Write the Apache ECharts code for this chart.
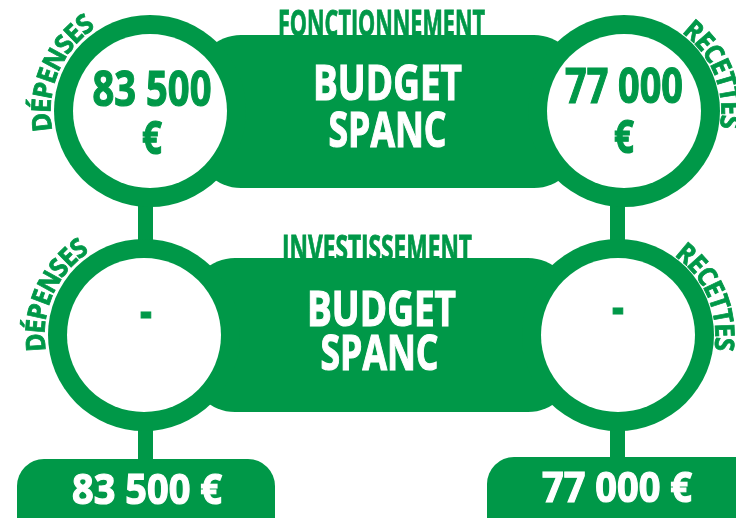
<!DOCTYPE html>
<html><head><meta charset="utf-8">
<script src="https://cdn.jsdelivr.net/npm/echarts@6/dist/echarts.min.js"></script>
<style>html,body{margin:0;padding:0;background:#fff}#c{width:736px;height:518px}</style>
</head><body><div id="c"></div>
<script>
// ---- data ----
const sections = ['FONCTIONNEMENT', 'INVESTISSEMENT'];
const sideLabels = ['DÉPENSES', 'RECETTES'];
const centerTitle = ['BUDGET', 'SPANC'];
const depenses = [83500, null];
const recettes = [77000, null];
const currency = '€';

// ---- helpers ----
const GREEN = '#009848';
const FONT = '"Open Sans", "Liberation Sans", sans-serif';
const WEIGHT = '700';
const CAP = 0.714;
const mctx = document.createElement('canvas').getContext('2d');
function measure(t, fs) { mctx.font = WEIGHT + ' ' + fs + 'px ' + FONT; return mctx.measureText(t).width; }
function fmt(v) { return v == null ? '-' : String(v).replace(/\B(?=(\d{3})+(?!\d))/g, ' '); }
const sum = a => a.reduce((s, v) => s + (v || 0), 0);

const BFS = 35 / CAP;
const COND = 149 / measure('BUDGET', BFS);

function txt(t, x, y, cap, color, z, opts) {
  const fs = cap / CAP;
  const o = Object.assign({ scaleX: COND, lw: 1.2 }, opts || {});
  if (o.width) o.scaleX = o.width / measure(t, fs);
  return {
    type: 'text', x: x, y: y, z: z, scaleX: o.scaleX, scaleY: 1,
    style: { text: t, fill: color, stroke: color, lineWidth: o.lw, font: WEIGHT + ' ' + fs + 'px ' + FONT, textAlign: 'center', textVerticalAlign: 'middle' }
  };
}
function arcText(str, cx, cy, r, a0, a1, cap, z) {
  const fs = cap / CAP;
  const chars = Array.from(str);
  const w = chars.map(c => measure(c, fs));
  const natural = w.reduce((a, b) => a + b, 0) - (w[0] + w[w.length - 1]) / 2;
  const span = Math.abs(a1 - a0) * Math.PI / 180 * r;
  const k = span / natural;
  const dir = a1 < a0 ? -1 : 1;
  let pos = 0;
  return chars.map((c, i) => {
    if (i > 0) pos += (w[i - 1] + w[i]) / 2 * k;
    const th = (a0 * Math.PI / 180) + dir * pos / r;
    return {
      type: 'text', x: cx + r * Math.cos(th), y: cy - r * Math.sin(th), z: z,
      rotation: th - Math.PI / 2, scaleX: k,
      style: { text: c, fill: GREEN, stroke: GREEN, lineWidth: 0.8, font: WEIGHT + ' ' + fs + 'px ' + FONT, textAlign: 'center', textVerticalAlign: 'middle' }
    };
  });
}

// ---- layout ----
const rows = [
  { cy: 111, lx: 150, rx: 624, rect: [195, 35, 385, 153], title: [381.5, 26, 207], b1: [387.5, 86], b2: [387.5, 133], vl: [92, 141], vr: [89, 140], dep: [186, 127], rec: [49, -6] },
  { cy: 335, lx: 144, rx: 618, rect: [189, 258, 385, 154], title: [377, 251, 190], b1: [381.5, 312], b2: [379.5, 356], vl: [314, 360], vr: [310, 356], dep: [184, 127], rec: [50, -5] }
];
const R_OUT = 96, R_IN = 77;

const els = [];
// stems
[[138, 195, 15, 55], [610, 195, 15, 55], [138, 420, 15, 45], [610, 420, 15, 45]].forEach(s =>
  els.push({ type: 'rect', z: 1, shape: { x: s[0], y: s[1], width: s[2], height: s[3] }, style: { fill: GREEN } }));

rows.forEach((rw, i) => {
  // section title (partially hidden by the band)
  els.push(txt(sections[i], rw.title[0], rw.title[1], 26, GREEN, 2, { width: rw.title[2], lw: 0.8 }));
  // band
  els.push({ type: 'rect', z: 3, shape: { x: rw.rect[0], y: rw.rect[1], width: rw.rect[2], height: rw.rect[3], r: 46 }, style: { fill: GREEN } });
  els.push(txt(centerTitle[0], rw.b1[0], rw.b1[1], 35, '#fff', 6, { width: 149 }));
  els.push(txt(centerTitle[1], rw.b2[0], rw.b2[1], 35, '#fff', 6, { width: 118 }));
  // circles
  [rw.lx, rw.rx].forEach(cx => {
    els.push({ type: 'circle', z: 4, shape: { cx: cx, cy: rw.cy, r: R_OUT }, style: { fill: GREEN } });
    els.push({ type: 'circle', z: 5, shape: { cx: cx, cy: rw.cy, r: R_IN }, style: { fill: '#fff' } });
  });
  // values
  const dv = depenses[i], rv = recettes[i];
  els.push(txt(fmt(dv), rw.lx + 2, rw.vl[0], 35, GREEN, 6, dv != null ? { width: 119 } : {}));
  if (dv != null) els.push(txt(currency, rw.lx + 2, rw.vl[1], 33, GREEN, 6));
  els.push(txt(fmt(rv), rw.rx, rw.vr[0], 35, GREEN, 6, rv != null ? { width: 118 } : {}));
  if (rv != null) els.push(txt(currency, rw.rx, rw.vr[1], 33, GREEN, 6));
  // curved labels
  arcText(sideLabels[0], rw.lx, rw.cy, 107, rw.dep[0], rw.dep[1], 19, 6).forEach(e => els.push(e));
  arcText(sideLabels[1], rw.rx, rw.cy, 105, rw.rec[0], rw.rec[1], 19, 6).forEach(e => els.push(e));
});

// totals pills
els.push({ type: 'rect', z: 3, shape: { x: 17, y: 459, width: 258, height: 90, r: 27 }, style: { fill: GREEN } });
els.push({ type: 'rect', z: 3, shape: { x: 487, y: 457, width: 280, height: 90, r: 27 }, style: { fill: GREEN } });
els.push(txt(fmt(sum(depenses)) + ' ' + currency, 147, 492, 30, '#fff', 6, { width: 150 }));
els.push(txt(fmt(sum(recettes)) + ' ' + currency, 617, 490, 30, '#fff', 6, { width: 150 }));

const chart = echarts.init(document.getElementById('c'), null, { renderer: 'canvas' });
chart.setOption({ backgroundColor: '#fff', animation: false, graphic: { elements: els } });
</script>
</body></html>
